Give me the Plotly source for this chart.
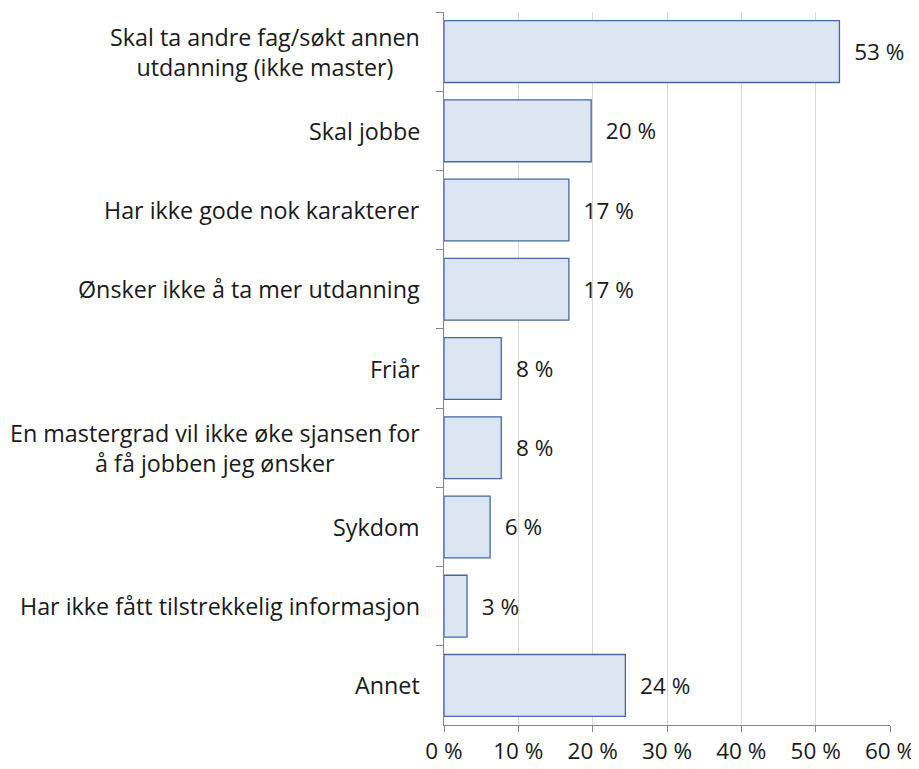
import plotly.graph_objects as go

categories = [
    "Skal ta andre fag/søkt annen<br>utdanning (ikke master)",
    "Skal jobbe",
    "Har ikke gode nok karakterer",
    "Ønsker ikke å ta mer utdanning",
    "Friår",
    "En mastergrad vil ikke øke sjansen for<br>å få jobben jeg ønsker",
    "Sykdom",
    "Har ikke fått tilstrekkelig informasjon",
    "Annet",
]
values = [53.2, 19.8, 16.8, 16.8, 7.7, 7.7, 6.2, 3.1, 24.4]
x_ticks = [0, 10, 20, 30, 40, 50, 60]
x_tick_labels = ["0 %", "10 %", "20 %", "30 %", "40 %", "50 %", "60 %"]

font_family = "Open Sans"
font_color = "#1a1a1a"

fig = go.Figure(go.Bar(
    x=values,
    y=categories,
    orientation="h",
    marker=dict(color="#dce6f2", line=dict(color="#4369a0", width=1.3)),
    texttemplate="  %{x:.0f} %",
    textposition="outside",
    textfont=dict(family=font_family, size=22.5, color=font_color),
    cliponaxis=False,
))

for c in categories:
    fig.add_annotation(
        x=0, y=c, xref="x", yref="y", text=c, showarrow=False,
        xanchor="right", align="center", xshift=-22,
        font=dict(family=font_family, size=23.3, color=font_color),
    )

# page body has an 8px margin, so the figure is sized/offset to compensate
fig.update_layout(
    width=911, height=761,
    margin=dict(l=436, r=29, t=4, b=44, autoexpand=False),
    plot_bgcolor="white", paper_bgcolor="white",
    bargap=0.22,
    showlegend=False,
    font=dict(family=font_family, size=22.5, color=font_color),
)
fig.update_xaxes(
    range=[0, 60], tickvals=x_ticks, ticktext=x_tick_labels,
    showgrid=True, gridcolor="#d9d9d9", gridwidth=1,
    showline=True, linecolor="#868686", linewidth=1,
    ticks="outside", ticklen=6, tickcolor="#868686",
    tickfont=dict(family=font_family, size=22.5, color=font_color),
    zeroline=False, automargin=False,
)
fig.update_yaxes(
    autorange="reversed", showticklabels=False,
    showline=True, linecolor="#868686", linewidth=1,
    ticks="outside", ticklen=7, tickcolor="#868686", tickson="boundaries",
    showgrid=False, automargin=False,
)

fig.write_html("out.html")
